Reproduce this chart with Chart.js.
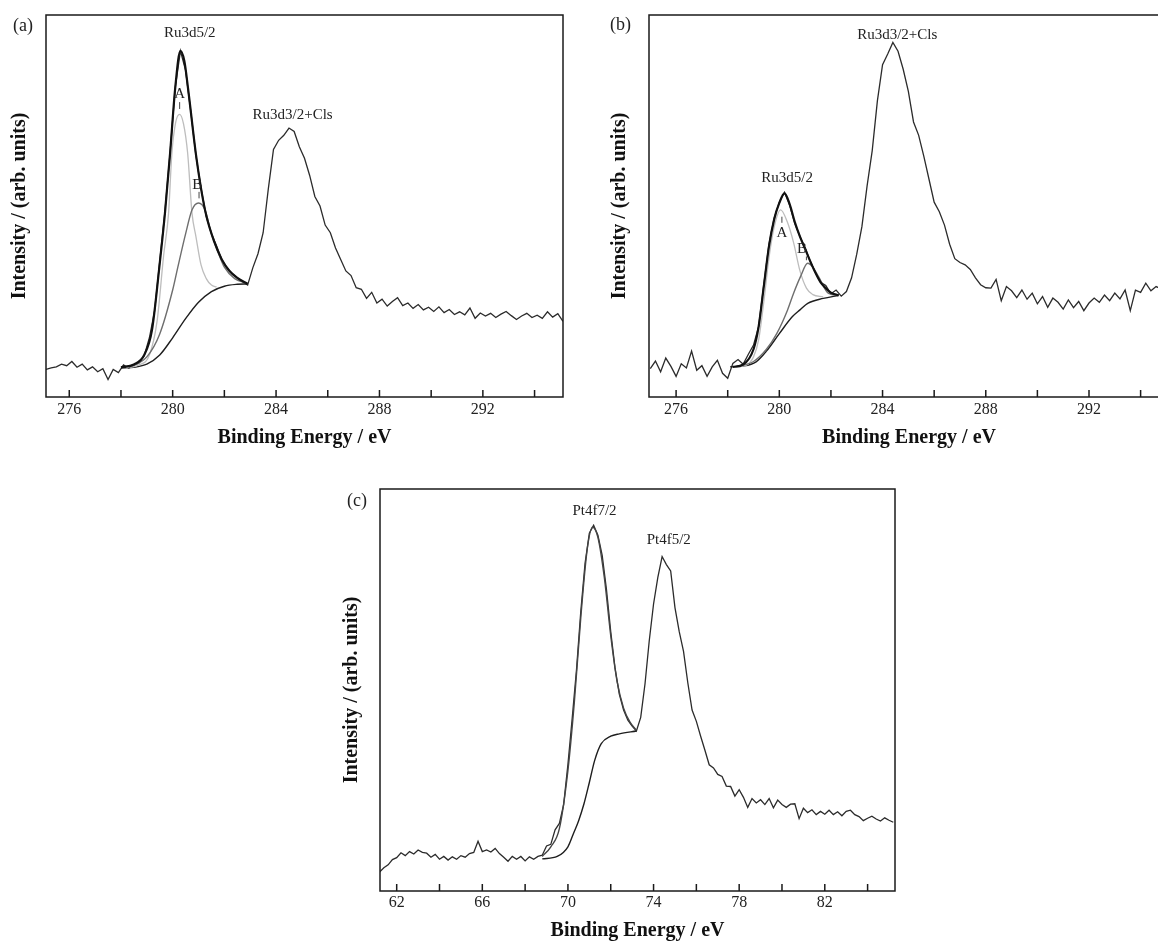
<!DOCTYPE html>
<html>
<head>
<meta charset="utf-8">
<script src="https://cdn.jsdelivr.net/npm/chart.js@4.4.1/dist/chart.umd.min.js"></script>
<style>
    html, body { margin: 0; padding: 0; background: #fff; width: 1158px; height: 941px; overflow: hidden; position: relative; }
    .panel { position: absolute; }
    .tag { position: absolute; font-family: "Liberation Serif", serif; font-size: 18px; line-height: 18px; color: #222; }
</style>
</head>
<body>
<div class="panel" style="left:0;top:0;width:580px;height:460px"><canvas id="chart-a" width="580" height="460"></canvas></div>
<div class="panel" style="left:600px;top:0;width:580px;height:460px"><canvas id="chart-b" width="580" height="460"></canvas></div>
<div class="panel" style="left:330px;top:470px;width:580px;height:480px"><canvas id="chart-c" width="580" height="480"></canvas></div>
<div class="tag" style="left:13px;top:16px">(a)</div>
<div class="tag" style="left:610px;top:15px">(b)</div>
<div class="tag" style="left:347px;top:491px">(c)</div>
<script>
// tick positions (every 2 eV, labelled every 4 eV)
const ruTicks = [276, 278, 280, 282, 284, 286, 288, 290, 292, 294];
const ruTickLabels = [276, 280, 284, 288, 292];
const ptTicks = [62, 64, 66, 68, 70, 72, 74, 76, 78, 80, 82, 84];
const ptTickLabels = [62, 66, 70, 74, 78, 82];

// ---- panel (a): Ru 3d region ----
const aEnergy = [275.1, 275.3, 275.5, 275.7, 275.9, 276.1, 276.3, 276.5, 276.7, 276.9, 277.1, 277.3, 277.5, 277.7, 277.9, 278.1, 278.3, 278.5, 278.7, 278.9,
    279.1, 279.3, 279.5, 279.7, 279.9, 280.1, 280.3, 280.5, 280.7, 280.9, 281.1, 281.3, 281.5, 281.7, 281.9, 282.1, 282.3, 282.5, 282.7, 282.9,
    283.1, 283.3, 283.5, 283.7, 283.9, 284.1, 284.3, 284.5, 284.7, 284.9, 285.1, 285.3, 285.5, 285.7, 285.9, 286.1, 286.3, 286.5, 286.7, 286.9,
    287.1, 287.3, 287.5, 287.7, 287.9, 288.1, 288.3, 288.5, 288.7, 288.9, 289.1, 289.3, 289.5, 289.7, 289.9, 290.1, 290.3, 290.5, 290.7, 290.9,
    291.1, 291.3, 291.5, 291.7, 291.9, 292.1, 292.3, 292.5, 292.7, 292.9, 293.1, 293.3, 293.5, 293.7, 293.9, 294.1, 294.3, 294.5, 294.7, 294.9, 295.1];
const aIntensity = [7.2, 7.6, 7.9, 8.6, 8.2, 9.3, 7.8, 8.6, 7.1, 7.9, 6.6, 7.4, 4.6, 7.2, 6.4, 8.4, 7.5, 8.3, 8.9, 10.8,
    15.5, 22.5, 35.5, 48.5, 64.0, 81.0, 90.6, 85.5, 74.8, 63.2, 54.6, 47.2, 42.8, 39.5, 36.0, 33.8, 32.3, 31.2, 30.2, 29.3,
    33.8, 37.5, 43.0, 54.5, 64.8, 67.2, 68.5, 70.4, 69.5, 65.5, 62.5, 58.0, 52.5, 50.0, 45.0, 43.0, 39.0, 36.0, 33.0, 31.8,
    28.6, 28.2, 25.8, 27.4, 24.6, 25.6, 23.8, 25.0, 26.0, 23.9, 24.6, 23.2, 24.2, 22.8, 23.5, 22.4, 23.6, 22.1, 22.9, 21.6,
    22.3, 21.5, 23.3, 20.6, 22.0, 21.2, 21.9, 20.8, 21.7, 22.4, 21.3, 20.3, 21.2, 21.9, 20.8, 21.4, 20.6, 22.3, 20.9, 21.8, 19.8];
const aEnvE = [278.0, 278.5, 278.9, 279.2, 279.5, 279.7, 279.9, 280.1, 280.3, 280.45, 280.6, 280.9, 281.1, 281.3, 281.6, 281.9, 282.2, 282.5, 282.9];
const aEnvI = [7.8, 8.5, 11.0, 17.5, 35.0, 48.0, 63.8, 81.0, 90.6, 88.0, 80.5, 63.5, 54.5, 47.5, 40.8, 36.0, 33.0, 31.2, 29.6];
const aPeakAE = [278.2, 278.7, 279.1, 279.4, 279.65, 279.84, 279.97, 280.12, 280.27, 280.42, 280.58, 280.75, 280.9, 281.1, 281.3, 281.5, 281.7];
const aPeakAI = [7.6, 8.4, 11.0, 20.0, 37.0, 48.0, 63.8, 72.0, 74.0, 71.5, 63.8, 48.0, 42.0, 34.5, 31.0, 29.3, 28.8];
const aPeakBE = [278.3, 279.0, 279.5, 280.0, 280.2, 280.5, 280.75, 281.0, 281.25, 281.5, 281.75, 282.0, 282.4, 282.9];
const aPeakBI = [7.7, 10.5, 16.5, 28.0, 34.0, 42.7, 49.0, 50.8, 49.0, 42.7, 38.0, 34.0, 31.0, 29.7];
const aBackE = [278.0, 278.5, 279.0, 279.5, 280.0, 280.5, 281.0, 281.5, 282.0, 282.5, 282.9];
const aBackI = [7.6, 7.8, 8.6, 11.0, 15.5, 20.5, 24.8, 27.6, 29.0, 29.5, 29.6];

// ---- panel (b): Ru 3d region, second sample ----
const bEnergy = [275.0, 275.2, 275.4, 275.6, 275.8, 276.0, 276.2, 276.4, 276.6, 276.8, 277.0, 277.2, 277.4, 277.6, 277.8, 278.0, 278.2, 278.4, 278.6, 278.8,
    279.0, 279.2, 279.4, 279.6, 279.8, 280.0, 280.2, 280.4, 280.6, 280.8, 281.0, 281.2, 281.4, 281.6, 281.8, 282.0, 282.2, 282.4, 282.6, 282.8,
    283.0, 283.2, 283.4, 283.6, 283.8, 284.0, 284.2, 284.4, 284.6, 284.8, 285.0, 285.2, 285.4, 285.6, 285.8, 286.0, 286.2, 286.4, 286.6, 286.8,
    287.0, 287.2, 287.4, 287.6, 287.8, 288.0, 288.2, 288.4, 288.6, 288.8, 289.0, 289.2, 289.4, 289.6, 289.8, 290.0, 290.2, 290.4, 290.6, 290.8,
    291.0, 291.2, 291.4, 291.6, 291.8, 292.0, 292.2, 292.4, 292.6, 292.8, 293.0, 293.2, 293.4, 293.6, 293.8, 294.0, 294.2, 294.4, 294.6, 294.8, 295.0];
const bIntensity = [7.4, 9.4, 6.6, 10.2, 8.0, 5.4, 8.7, 7.6, 12.0, 7.0, 8.2, 5.4, 7.9, 9.6, 6.2, 4.9, 8.8, 9.8, 8.6, 11.2,
    13.6, 18.5, 29.5, 40.0, 46.8, 51.0, 53.6, 50.2, 45.4, 42.0, 39.0, 35.5, 32.6, 30.0, 29.2, 27.0, 28.0, 26.4, 27.6, 31.2,
    37.4, 44.6, 55.2, 64.5, 77.5, 87.0, 89.8, 92.8, 90.5, 85.8, 80.0, 72.0, 68.5, 63.0, 57.0, 51.0, 48.5, 45.0, 40.0, 36.2,
    35.2, 34.6, 33.4, 31.2, 29.4, 28.6, 28.5, 30.8, 25.2, 28.9, 27.8, 26.0, 28.0, 25.6, 27.2, 24.4, 26.3, 23.5, 25.9, 24.8,
    23.0, 25.4, 23.4, 25.0, 22.6, 24.6, 25.9, 24.8, 26.7, 25.2, 27.2, 25.7, 28.0, 22.6, 28.0, 27.4, 29.8, 27.8, 28.9, 28.3, 28.0];
const bEnvE = [278.2, 278.6, 279.0, 279.2, 279.4, 279.6, 279.8, 280.0, 280.2, 280.4, 280.6, 280.8, 281.0, 281.2, 281.4, 281.6, 281.8, 282.0, 282.3];
const bEnvI = [7.9, 8.5, 12.5, 18.5, 29.0, 39.5, 46.5, 50.8, 53.3, 50.5, 45.8, 42.0, 38.8, 35.5, 32.5, 30.0, 28.5, 27.3, 26.6];
const bPeakAE = [278.2, 278.7, 279.0, 279.2, 279.4, 279.6, 279.8, 280.05, 280.3, 280.55, 280.8, 281.05, 281.3, 281.7];
const bPeakAI = [7.9, 8.3, 10.5, 15.0, 25.0, 36.5, 44.5, 49.0, 46.0, 40.5, 33.0, 28.5, 26.8, 26.2];
const bPeakBE = [278.3, 279.0, 279.5, 279.9, 280.32, 280.55, 280.82, 281.1, 281.3, 281.52, 281.91, 282.3];
const bPeakBI = [7.9, 9.3, 12.5, 16.6, 22.8, 27.1, 31.5, 35.0, 34.0, 31.5, 27.1, 26.6];
const bBackE = [278.1, 278.6, 279.1, 279.5, 280.0, 280.5, 280.8, 281.1, 281.7, 282.3];
const bBackI = [7.9, 8.1, 9.2, 12.0, 16.6, 21.0, 22.8, 24.5, 25.8, 26.6];

// ---- panel (c): Pt 4f region ----
const cEnergy = [61.2, 61.4, 61.6, 61.8, 62.0, 62.2, 62.4, 62.6, 62.8, 63.0, 63.2, 63.4, 63.6, 63.8, 64.0, 64.2, 64.4, 64.6, 64.8, 65.0,
    65.2, 65.4, 65.6, 65.8, 66.0, 66.2, 66.4, 66.6, 66.8, 67.0, 67.2, 67.4, 67.6, 67.8, 68.0, 68.2, 68.4, 68.6, 68.8, 69.0,
    69.2, 69.4, 69.6, 69.8, 70.0, 70.2, 70.4, 70.6, 70.8, 71.0, 71.2, 71.4, 71.6, 71.8, 72.0, 72.2, 72.4, 72.6, 72.8, 73.0,
    73.2, 73.4, 73.6, 73.8, 74.0, 74.2, 74.4, 74.6, 74.8, 75.0, 75.2, 75.4, 75.6, 75.8, 76.0, 76.2, 76.4, 76.6, 76.8, 77.0,
    77.2, 77.4, 77.6, 77.8, 78.0, 78.2, 78.4, 78.6, 78.8, 79.0, 79.2, 79.4, 79.6, 79.8, 80.0, 80.2, 80.4, 80.6, 80.8, 81.0,
    81.2, 81.4, 81.6, 81.8, 82.0, 82.2, 82.4, 82.6, 82.8, 83.0, 83.2, 83.4, 83.6, 83.8, 84.0, 84.2, 84.4, 84.6, 84.8, 85.0, 85.2];
const cIntensity = [4.7, 5.8, 6.5, 7.8, 8.3, 9.5, 8.8, 9.8, 9.2, 10.2, 9.6, 9.4, 8.4, 9.1, 7.9, 8.6, 7.7, 8.5, 7.9, 8.8,
    8.4, 9.3, 9.6, 12.4, 9.8, 10.2, 9.7, 10.6, 9.3, 8.4, 7.4, 8.6, 7.9, 8.6, 7.5, 8.5, 7.9, 8.6, 8.9, 11.2,
    11.6, 15.2, 16.8, 21.5, 31.5, 43.0, 55.0, 69.5, 81.5, 89.0, 91.0, 88.5, 83.5, 75.0, 64.5, 55.5, 49.0, 45.0, 42.5, 41.0,
    39.8, 43.2, 51.5, 62.3, 71.4, 78.0, 83.2, 81.2, 79.6, 70.5, 64.5, 59.6, 51.8, 45.0, 42.2, 38.5, 35.0, 31.4, 30.6, 29.0,
    28.5, 26.1, 26.0, 23.6, 25.2, 23.3, 20.8, 23.0, 21.9, 22.7, 21.5, 23.0, 20.7, 22.6, 21.5, 20.8, 21.6, 21.7, 18.0, 20.6,
    19.5, 20.2, 19.0, 19.8, 19.1, 20.1, 19.0, 19.7, 18.7, 19.8, 20.1, 19.0, 18.5, 17.5, 18.1, 18.6, 17.9, 17.4, 18.2, 17.6, 17.1];
const cEnvE = [68.8, 69.2, 69.6, 70.0, 70.3, 70.6, 70.9, 71.15, 71.4, 71.7, 72.0, 72.3, 72.6, 72.9, 73.2];
const cEnvI = [8.6, 11.0, 15.5, 30.0, 47.0, 68.0, 85.0, 90.5, 88.0, 78.0, 63.5, 52.0, 45.5, 42.0, 40.0];
const cBackE = [68.8, 69.5, 70.0, 70.25, 70.5, 70.75, 71.0, 71.25, 71.55, 72.0, 72.4, 73.2];
const cBackI = [8.0, 8.6, 11.0, 14.2, 17.5, 21.7, 27.0, 32.5, 36.6, 38.5, 39.1, 39.8];

const SERIF = '"Liberation Serif", "Times New Roman", serif';

function series(E, I, color, width, smooth) {
    return {
        data: E.map((e, i) => ({ x: e, y: I[i] })),
        borderColor: color,
        borderWidth: width,
        pointRadius: 0,
        fill: false,
        tension: 0,
        cubicInterpolationMode: smooth ? 'monotone' : 'default'
    };
}

// box round the plot area, ticks pointing inward
const framePlugin = {
    id: 'frame',
    afterDatasetsDraw(chart) {
        const { ctx, chartArea: a, scales: { x } } = chart;
        ctx.save();
        ctx.strokeStyle = '#1a1a1a';
        ctx.lineWidth = 1.5;
        ctx.strokeRect(a.left, a.top, a.right - a.left, a.bottom - a.top);
        ctx.beginPath();
        x.ticks.forEach(t => {
            const px = x.getPixelForValue(t.value);
            ctx.moveTo(px, a.bottom);
            ctx.lineTo(px, a.bottom - 7);
        });
        ctx.stroke();
        ctx.restore();
    }
};

// peak labels and little markers, placed in data units
const notesPlugin = {
    id: 'notes',
    afterDatasetsDraw(chart, args, opts) {
        const { ctx, scales: { x, y } } = chart;
        ctx.save();
        ctx.fillStyle = '#222';
        ctx.font = '15px ' + SERIF;
        ctx.textAlign = 'center';
        ctx.textBaseline = 'middle';
        (opts.labels || []).forEach(n => {
            ctx.fillText(n.text, x.getPixelForValue(n.at[0]), y.getPixelForValue(n.at[1]));
        });
        ctx.strokeStyle = '#444';
        ctx.lineWidth = 1;
        ctx.beginPath();
        (opts.marks || []).forEach(m => {
            const px = x.getPixelForValue(m.x);
            ctx.moveTo(px, y.getPixelForValue(m.from));
            ctx.lineTo(px, y.getPixelForValue(m.to));
        });
        ctx.stroke();
        ctx.restore();
    }
};

function buildPanel(id, o) {
    return new Chart(document.getElementById(id), {
        type: 'line',
        data: { datasets: o.datasets },
        options: {
            responsive: false,
            animation: false,
            devicePixelRatio: 1,
            layout: { padding: { top: o.padTop, right: o.padRight, left: 0, bottom: 0 } },
            plugins: {
                legend: { display: false },
                tooltip: { enabled: false },
                notes: { labels: o.labels, marks: o.marks }
            },
            scales: {
                x: {
                    type: 'linear',
                    min: o.min,
                    max: o.max,
                    afterBuildTicks: s => { s.ticks = o.ticks.map(v => ({ value: v })); },
                    afterFit: s => { s.height = o.xHeight; },
                    grid: { display: false, drawTicks: false },
                    border: { display: false },
                    ticks: {
                        autoSkip: false,
                        maxRotation: 0,
                        padding: o.tickPad,
                        color: '#222',
                        font: { family: SERIF, size: 16 },
                        callback: v => (o.tickLabels.includes(v) ? String(v) : '')
                    },
                    title: {
                        display: true,
                        text: 'Binding Energy / eV',
                        color: '#111',
                        font: { family: SERIF, size: 20, weight: 'bold' },
                        padding: { top: 0, bottom: o.xTitlePad }
                    }
                },
                y: {
                    min: 0,
                    max: 100,
                    afterFit: s => { s.width = o.yWidth; },
                    grid: { display: false, drawTicks: false },
                    border: { display: false },
                    ticks: { display: false },
                    title: {
                        display: true,
                        text: 'Intensity / (arb. units)',
                        color: '#111',
                        font: { family: SERIF, size: 20, weight: 'bold' },
                        padding: { top: o.yTitlePad, bottom: 0 }
                    }
                }
            }
        },
        plugins: [framePlugin, notesPlugin]
    });
}

buildPanel('chart-a', {
    min: 275.1, max: 295.1, ticks: ruTicks, tickLabels: ruTickLabels,
    padTop: 15, padRight: 17, xHeight: 63, yWidth: 46, tickPad: 3, xTitlePad: 10, yTitlePad: 8,
    datasets: [
        series(aEnvE, aEnvI, '#111', 2.2, true),
        series(aPeakBE, aPeakBI, '#6e6e6e', 1.4, true),
        series(aPeakAE, aPeakAI, '#bdbdbd', 1.3, true),
        series(aBackE, aBackI, '#1e1e1e', 1.4, true),
        series(aEnergy, aIntensity, '#2b2b2b', 1.3, false)
    ],
    labels: [
        { text: 'Ru3d5/2', at: [280.66, 95.2] },
        { text: 'A', at: [280.27, 79.2] },
        { text: 'B', at: [280.95, 55.6] },
        { text: 'Ru3d3/2+Cls', at: [284.64, 73.8] }
    ],
    marks: [
        { x: 280.27, from: 75.4, to: 77.2 },
        { x: 281.02, from: 52.0, to: 53.7 }
    ]
});

buildPanel('chart-b', {
    min: 274.95, max: 295.1, ticks: ruTicks, tickLabels: ruTickLabels,
    padTop: 15, padRight: 11, xHeight: 63, yWidth: 49, tickPad: 3, xTitlePad: 10, yTitlePad: 8,
    datasets: [
        series(bEnvE, bEnvI, '#111', 2.2, true),
        series(bPeakBE, bPeakBI, '#6e6e6e', 1.4, true),
        series(bPeakAE, bPeakAI, '#bdbdbd', 1.3, true),
        series(bBackE, bBackI, '#1e1e1e', 1.4, true),
        series(bEnergy, bIntensity, '#2b2b2b', 1.3, false)
    ],
    labels: [
        { text: 'Ru3d3/2+Cls', at: [284.57, 94.8] },
        { text: 'Ru3d5/2', at: [280.3, 57.3] },
        { text: 'A', at: [280.1, 42.9] },
        { text: 'B', at: [280.88, 38.7] }
    ],
    marks: [
        { x: 280.1, from: 45.6, to: 47.2 },
        { x: 281.05, from: 35.8, to: 36.8 }
    ]
});

buildPanel('chart-c', {
    min: 61.22, max: 85.28, ticks: ptTicks, tickLabels: ptTickLabels,
    padTop: 19, padRight: 15, xHeight: 59, yWidth: 50, tickPad: 2, xTitlePad: 7, yTitlePad: 10,
    datasets: [
        series(cEnvE, cEnvI, '#444', 1.4, true),
        series(cBackE, cBackI, '#1e1e1e', 1.4, true),
        series(cEnergy, cIntensity, '#2b2b2b', 1.3, false)
    ],
    labels: [
        { text: 'Pt4f7/2', at: [71.24, 94.4] },
        { text: 'Pt4f5/2', at: [74.71, 87.3] }
    ],
    marks: []
});
</script>
</body>
</html>
